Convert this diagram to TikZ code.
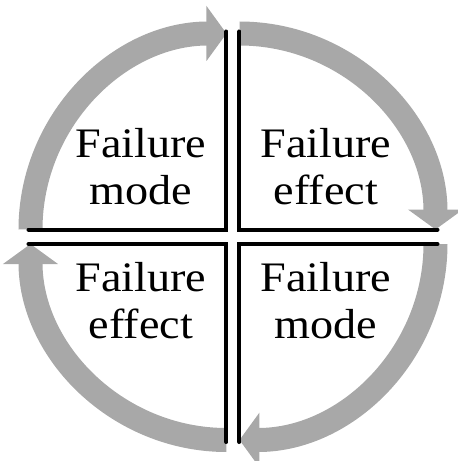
\documentclass[tikz,border=0pt]{standalone}
\usepackage{fontspec}
\setmainfont{Liberation Serif}[FakeStretch=1.1]
\usetikzlibrary{arrows.meta,calc}
\definecolor{ringgray}{RGB}{168,168,168}

\begin{document}
\begin{tikzpicture}[
    x=1pt, y=1pt,
    ring/.style={draw=ringgray, line width=24pt, -{Triangle[width=54pt,length=20pt]}},
    edge/.style={draw=black, line width=4pt, line cap=round},
    lbl/.style={align=center, inner sep=0pt, font=\fontsize{42}{47}\selectfont}
]
\useasboundingbox (-233,-224.5) rectangle (225,236.5);

\coordinate (tl) at (-6.5,7);
\coordinate (tr) at (6.5,7);
\coordinate (bl) at (-6.5,-7.5);
\coordinate (br) at (6.5,-7.5);

\draw[ring] ($(tl)+(-196,0)$) arc[start angle=180, end angle=90, radius=196pt];
\draw[ring] ($(tr)+(0,196)$) arc[start angle=90, end angle=0, radius=196pt];
\draw[ring] ($(br)+(196,0)$) arc[start angle=0, end angle=-90, radius=196pt];
\draw[ring] ($(bl)+(0,-196)$) arc[start angle=-90, end angle=-180, radius=196pt];

\draw[edge] ($(tl)+(-198,0)$) -- (tl) -- ($(tl)+(0,198)$);
\draw[edge] ($(tr)+(0,198)$) -- (tr) -- ($(tr)+(198,0)$);
\draw[edge] ($(br)+(198,0)$) -- (br) -- ($(br)+(0,-198)$);
\draw[edge] ($(bl)+(0,-198)$) -- (bl) -- ($(bl)+(-198,0)$);

\node[lbl] (modeA) at (-92,69.5) {Failure\\mode};
\node[lbl] (effectA) at (93,69.5) {Failure\\effect};
\node[lbl] (effectB) at (-92,-64.5) {Failure\\effect};
\node[lbl] (modeB) at (93,-64.5) {Failure\\mode};
\end{tikzpicture}
\end{document}
